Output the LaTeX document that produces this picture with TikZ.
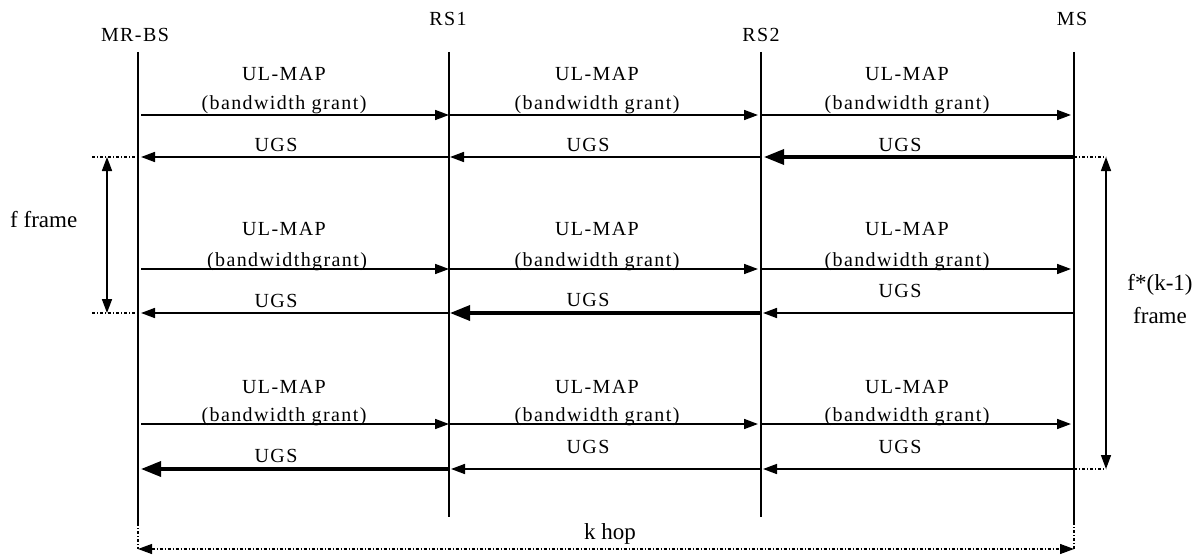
\documentclass[tikz,border=0pt]{standalone}
\usepackage{fontspec}
\setmainfont{Liberation Serif}
\newfontfamily\lblfont[LetterSpace=7]{Liberation Serif}
\usetikzlibrary{arrows.meta}
\begin{document}
\begin{tikzpicture}[x=1pt,y=-1pt,
  lbl/.style={font=\lblfont\fontsize{20}{22}\selectfont, inner sep=0pt, anchor=base},
  big/.style={font=\fontsize{23}{26}\selectfont, inner sep=0pt, anchor=base},
  life/.style={line width=1.8pt},
  msg/.style={line width=1.6pt, -{Triangle[length=14pt,width=10pt]}},
  bigmsg/.style={line width=3.4pt, -{Triangle[length=20pt,width=15pt]}},
  dotl/.style={line width=1.1pt, dash pattern=on 3pt off 2pt on 1pt off 2pt},
  dim/.style={line width=1.6pt, {Triangle[length=14pt,width=10pt]}-{Triangle[length=14pt,width=10pt]}},
  hop/.style={line width=1.1pt, dash pattern=on 3pt off 2pt on 1pt off 2pt, {Triangle[length=14pt,width=10pt]}-{Triangle[length=14pt,width=10pt]}}
]
\useasboundingbox (0,0) rectangle (1199,559);

% lifeline coordinates
\coordinate (bsT) at (138,52);  \coordinate (bsB) at (138,523);
\coordinate (r1T) at (449,52);  \coordinate (r1B) at (449,517);
\coordinate (r2T) at (761,52);  \coordinate (r2B) at (761,517);
\coordinate (msT) at (1074,52); \coordinate (msB) at (1074,522);
\coordinate (bsE) at (138,549); \coordinate (msE) at (1074,549);

% headers
\node[lbl] (hbs) at (135,42) {MR-BS};
\node[lbl] (hr1) at (448,26) {RS1};
\node[lbl] (hr2) at (761,42) {RS2};
\node[lbl] (hms) at (1072,26) {MS};

% lifelines
\draw[life] (bsT) -- (bsB);
\draw[life] (r1T) -- (r1B);
\draw[life] (r2T) -- (r2B);
\draw[life] (msT) -- (msB);
\draw[dotl] (bsB) -- (bsE);
\draw[dotl] (msB) -- (msE);

% row y-coordinates
\coordinate (u1) at (0,115); \coordinate (g1) at (0,157);
\coordinate (u2) at (0,269); \coordinate (g2) at (0,313);
\coordinate (u3) at (0,424); \coordinate (g3) at (0,469);

% UL-MAP arrows
\foreach \r in {1,2,3}{
  \draw[msg, shorten <=3pt, shorten >=0pt] (bsT |- u\r) -- (r1T |- u\r);
  \draw[msg, shorten <=1pt, shorten >=3pt] (r1T |- u\r) -- (r2T |- u\r);
  \draw[msg, shorten <=1pt, shorten >=3pt] (r2T |- u\r) -- (msT |- u\r);
}
% UGS arrows
\draw[msg, shorten >=3pt] (r1T |- g1) -- (bsT |- g1);
\draw[msg, shorten >=1pt] (r2T |- g1) -- (r1T |- g1);
\draw[bigmsg, shorten >=3pt] (msT |- g1) -- (r2T |- g1);
\draw[msg, shorten >=3pt] (r1T |- g2) -- (bsT |- g2);
\draw[bigmsg, shorten >=1pt] (r2T |- g2) -- (r1T |- g2);
\draw[msg, shorten >=2pt] (msT |- g2) -- (r2T |- g2);
\draw[bigmsg, shorten >=3pt] (r1T |- g3) -- (bsT |- g3);
\draw[msg, shorten >=2pt] (r2T |- g3) -- (r1T |- g3);
\draw[msg, shorten >=2pt] (msT |- g3) -- (r2T |- g3);

% labels row 1
\node[lbl] (a1) at (284,81) {UL-MAP};
\node[lbl] (b1) at (284,110) {(bandwidth grant)};
\node[lbl] (a2) at (597,81) {UL-MAP};
\node[lbl] (b2) at (597,110) {(bandwidth grant)};
\node[lbl] (a3) at (907,81) {UL-MAP};
\node[lbl] (b3) at (907,110) {(bandwidth grant)};
\node[lbl] (c1) at (276,151) {UGS};
\node[lbl] (c2) at (588,151) {UGS};
\node[lbl] (c3) at (900,151) {UGS};
% labels row 2
\node[lbl] (a4) at (284,235) {UL-MAP};
\node[lbl] (b4) at (287,266) {(bandwidthgrant)};
\node[lbl] (a5) at (597,235) {UL-MAP};
\node[lbl] (b5) at (597,266) {(bandwidth grant)};
\node[lbl] (a6) at (907,235) {UL-MAP};
\node[lbl] (b6) at (907,266) {(bandwidth grant)};
\node[lbl] (c4) at (276,307) {UGS};
\node[lbl] (c5) at (588,306) {UGS};
\node[lbl] (c6) at (900,297) {UGS};
% labels row 3
\node[lbl] (a7) at (284,393) {UL-MAP};
\node[lbl] (b7) at (284,421) {(bandwidth grant)};
\node[lbl] (a8) at (597,393) {UL-MAP};
\node[lbl] (b8) at (597,421) {(bandwidth grant)};
\node[lbl] (a9) at (907,393) {UL-MAP};
\node[lbl] (b9) at (907,421) {(bandwidth grant)};
\node[lbl] (c7) at (276,462) {UGS};
\node[lbl] (c8) at (588,453) {UGS};
\node[lbl] (c9) at (900,453) {UGS};

% f frame dimension
\coordinate (fL1) at (92,157); \coordinate (fL2) at (92,313);
\coordinate (fA1) at (107,157); \coordinate (fA2) at (107,313);
\draw[dotl] (fL1) -- (bsT |- g1);
\draw[dotl] (fL2) -- (bsT |- g2);
\draw[dim] (fA1) -- (fA2);
\node[big, anchor=base west] (ff) at (10,227) {f frame};

% f*(k-1) frame dimension
\coordinate (kA1) at (1106,157); \coordinate (kA2) at (1106,469);
\draw[dotl] (msT |- g1) -- (kA1);
\draw[dotl] (msT |- g3) -- (kA2);
\draw[dim] (kA1) -- (kA2);
\node[big] (fk1) at (1160,290) {f*(k-1)};
\node[big] (fk2) at (1160,323) {frame};

% k hop
\draw[hop] (bsE) -- (msE);
\node[big] (kh) at (610,539) {k hop};
\end{tikzpicture}
\end{document}
